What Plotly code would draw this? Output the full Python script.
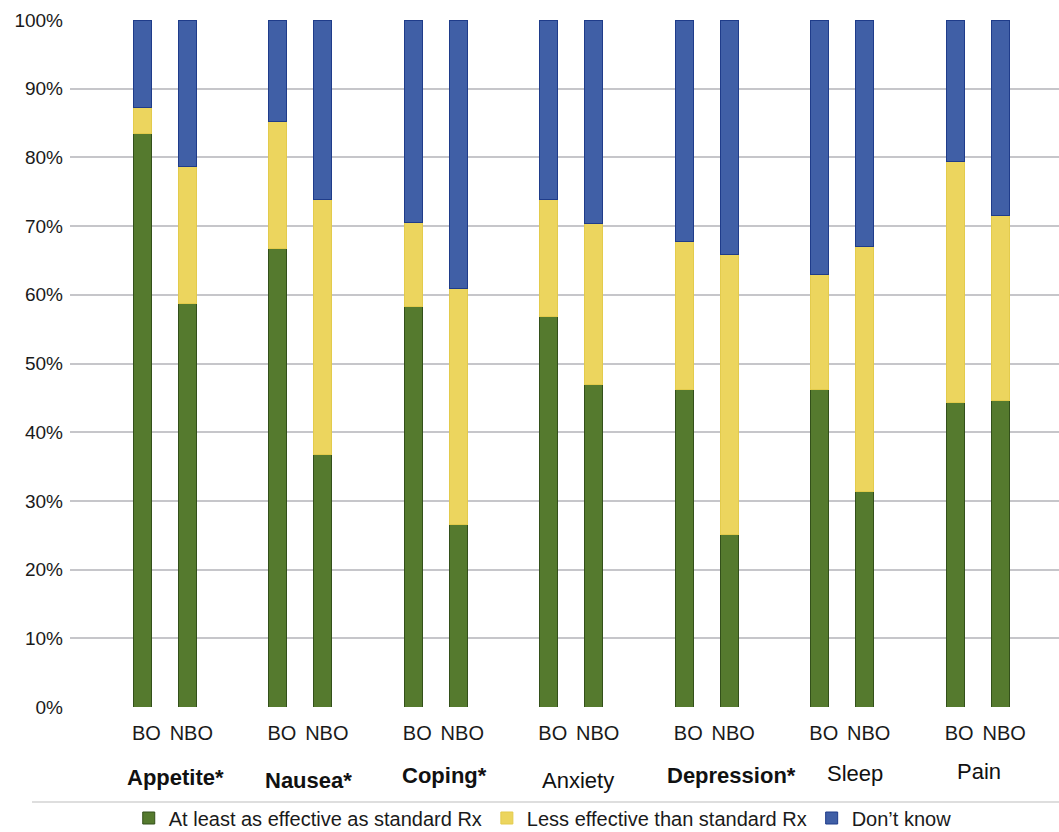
import plotly.graph_objects as go

# ---- data (percent of respondents) ----
groups = ["Appetite*", "Nausea*", "Coping*", "Anxiety", "Depression*", "Sleep", "Pain"]
bold_groups = [True, True, True, False, True, False, False]
sub_labels = ["BO", "NBO"]
series_names = ["At least as effective as standard Rx", "Less effective than standard Rx", "Don\u2019t know"]
y_ticks = [0, 10, 20, 30, 40, 50, 60, 70, 80, 90, 100]
y_tick_text = ["0%", "10%", "20%", "30%", "40%", "50%", "60%", "70%", "80%", "90%", "100%"]

# BO values per group
bo_effective = [83.5, 66.8, 58.3, 56.8, 46.2, 46.2, 44.3]
bo_less = [3.7, 18.4, 12.2, 17.1, 21.6, 16.8, 35.1]
bo_dontknow = [12.8, 14.8, 29.5, 26.1, 32.2, 37.0, 20.6]
# NBO values per group
nbo_effective = [58.7, 36.7, 26.5, 47.0, 25.1, 31.3, 44.6]
nbo_less = [20.0, 37.2, 34.4, 23.4, 40.7, 35.8, 26.9]
nbo_dontknow = [21.3, 26.1, 39.1, 29.6, 34.2, 32.9, 28.5]

# ---- styles ----
fills = ["#557A2E", "#ECD55E", "#405FA6"]
edges = ["#33501A", "#E3CB4C", "#1F3C8A"]
label_dx = [11, 8, 9, 7, 25, 13, 1]          # px shift of group labels
label_dy = [777, 780, 776, 780, 775, 773, 771]  # px centre of group labels

W, H = 1059, 832
ML, MR, MT, MB = 70, 0, 20, 125
plot_h = H - MT - MB
sep = 0.166
bw = 0.133

xs, texts = [], []
for i in range(len(groups)):
    xs += [i - sep, i + sep]
    texts += sub_labels

def interleave(a, b):
    out = []
    for u, v in zip(a, b):
        out += [u, v]
    return out

series_vals = [interleave(bo_effective, nbo_effective),
               interleave(bo_less, nbo_less),
               interleave(bo_dontknow, nbo_dontknow)]

fig = go.Figure()
for k, name in enumerate(series_names):
    fig.add_trace(go.Bar(
        x=xs, y=series_vals[k], name=name, width=bw,
        marker=dict(color=fills[k], line=dict(color=edges[k], width=1)),
    ))

annotations = []
for i, g in enumerate(groups):
    txt = f"<b>{g}</b>" if bold_groups[i] else g
    annotations.append(dict(
        x=i, y=(H - MB - label_dy[i]) / plot_h, xref="x", yref="paper",
        text=txt, showarrow=False, xshift=label_dx[i],
        xanchor="center", yanchor="middle",
        font=dict(size=22, color="#111111", family="Liberation Sans, Arial, sans-serif"),
    ))

fig.update_layout(
    width=W, height=H,
    margin=dict(l=ML, r=MR, t=MT, b=MB, autoexpand=False),
    barmode="stack",
    plot_bgcolor="white", paper_bgcolor="white",
    font=dict(family="Liberation Sans, Arial, sans-serif", color="#1a1a1a", size=20),
    xaxis=dict(
        range=[-0.70, 6.60], tickmode="array", tickvals=xs, ticktext=texts,
        showgrid=False, zeroline=False, showline=False, ticks="", automargin=False,
        tickfont=dict(size=20, color="#1a1a1a"), ticklabelshift=4, ticklabelstandoff=12,
    ),
    yaxis=dict(
        range=[0, 100], tickmode="array", tickvals=y_ticks, ticktext=y_tick_text,
        showgrid=True, gridcolor="#C6C6CA", gridwidth=1.5, automargin=False,
        zeroline=False, showline=False, ticks="", ticklabelstandoff=6,
        tickfont=dict(size=19, color="#1a1a1a"),
    ),
    showlegend=True,
    legend=dict(
        orientation="h", x=0.478, xanchor="center",
        y=(H - MB - 818) / plot_h, yanchor="middle",
        font=dict(size=20, color="#1a1a1a"), traceorder="normal",
        itemwidth=30, tracegroupgap=0, bgcolor="rgba(0,0,0,0)",
    ),
    annotations=annotations,
    shapes=[dict(type="line", xref="paper", yref="paper",
                 x0=(32 - ML) / (W - ML - MR), x1=1.0,
                 y0=(H - MB - 802) / plot_h, y1=(H - MB - 802) / plot_h,
                 line=dict(color="#D3D3D3", width=1.5))],
)

fig.write_html(
    "out.html",
    config={"displayModeBar": False},
    post_script="document.body.style.margin='0px';document.body.style.overflow='hidden';",
)
